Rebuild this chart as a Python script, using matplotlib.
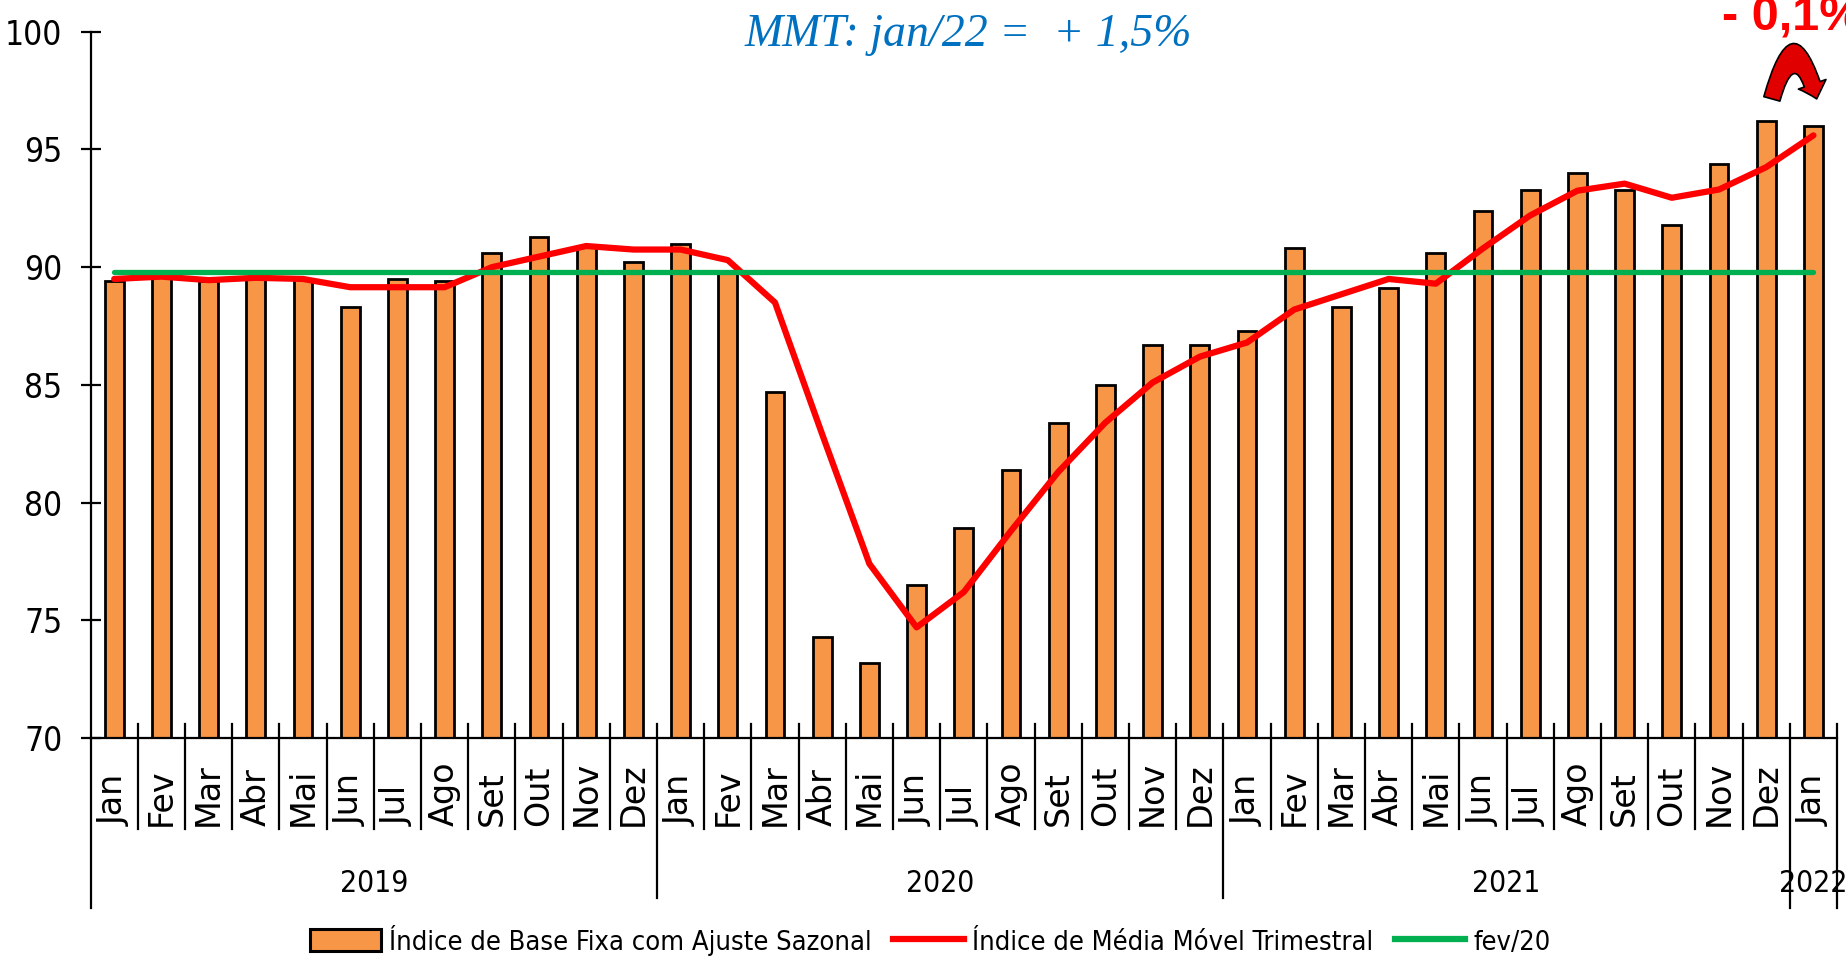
import matplotlib
matplotlib.use("Agg")
import matplotlib.pyplot as plt
from matplotlib import font_manager as fm
from matplotlib.patches import FancyArrowPatch, Patch
from matplotlib.lines import Line2D
import matplotlib.transforms as mtransforms

# ---------------- data ----------------
years = ["2019", "2020", "2021", "2022"]
months = ["Jan", "Fev", "Mar", "Abr", "Mai", "Jun", "Jul", "Ago", "Set", "Out", "Nov", "Dez"]
month_labels = months * 3 + ["Jan"]

indice_sazonal = [
    89.4, 89.6, 89.4, 89.6, 89.5, 88.3, 89.5, 89.4, 90.6, 91.3, 90.9, 90.2,   # 2019
    91.0, 89.8, 84.7, 74.3, 73.2, 76.5, 78.9, 81.4, 83.4, 85.0, 86.7, 86.7,   # 2020
    87.3, 90.8, 88.3, 89.1, 90.6, 92.4, 93.3, 94.0, 93.3, 91.8, 94.4, 96.2,   # 2021
    96.0,                                                                     # 2022
]
media_movel = [
    89.5, 89.6, 89.45, 89.55, 89.5, 89.15, 89.15, 89.15, 90.0, 90.45, 90.9, 90.75,
    90.75, 90.3, 88.5, 82.9, 77.4, 74.7, 76.2, 78.8, 81.3, 83.4, 85.1, 86.2,
    86.8, 88.2, 88.85, 89.5, 89.3, 90.8, 92.2, 93.25, 93.55, 92.95, 93.3, 94.25,
    95.6,
]
fev20_level = 89.8
year_spans = [(0, 11), (12, 23), (24, 35), (36, 36)]

title_text = "MMT: jan/22 =  + 1,5%"
change_text = "- 0,1%"
legend_labels = ["Índice de Base Fixa com Ajuste Sazonal",
                 "Índice de Média Móvel Trimestral", "fev/20"]

# ---------------- fonts ----------------
names = {f.name for f in fm.fontManager.ttflist}
NARROW = "Liberation Sans Narrow" if "Liberation Sans Narrow" in names else "DejaVu Sans"
narrow_kw = {"family": NARROW}
if NARROW == "DejaVu Sans":
    narrow_kw["stretch"] = "condensed"

ORANGE = "#F79646"
RED = "#FF0000"
GREEN = "#00B050"

W, H = 1846, 956
fig = plt.figure(figsize=(W / 100, H / 100), dpi=100)
ax_left, ax_right, ax_top, ax_bot = 90.6, 1837, 31.8, 738
ax = fig.add_axes([ax_left / W, 1 - ax_bot / H, (ax_right - ax_left) / W, (ax_bot - ax_top) / H])
axh = ax_bot - ax_top

n = len(indice_sazonal)
x = list(range(n))

ax.bar(x, indice_sazonal, width=0.4, color=ORANGE, edgecolor="black", linewidth=2.0, zorder=2)
ax.plot(x, media_movel, color=RED, linewidth=4.5, solid_capstyle="round",
        solid_joinstyle="round", zorder=3)
ax.plot([x[0], x[-1]], [fev20_level, fev20_level], color=GREEN, linewidth=3.8,
        solid_capstyle="round", zorder=4)

ax.set_xlim(-0.5, n - 0.5)
ax.set_ylim(70, 100)
ax.set_yticks([70, 75, 80, 85, 90, 95, 100])
ax.tick_params(axis="y", direction="inout", length=14.4, width=1.6, pad=13,
               labelsize=24, colors="black")
for lab in ax.get_yticklabels():
    lab.set_family(NARROW)
    if NARROW == "DejaVu Sans":
        lab.set_stretch("condensed")
ax.set_xticks([])
for s in ["top", "right"]:
    ax.spines[s].set_visible(False)
ax.spines["left"].set_linewidth(1.6)
ax.spines["bottom"].set_linewidth(1.6)

# category separators / multi-level axis
trans = mtransforms.blended_transform_factory(ax.transData, ax.transAxes)
top_y = 14 / axh
for k in range(n + 1):
    xb = k - 0.5
    if k in (0, n - 1, n):
        yb = -(908 - ax_bot) / axh
    elif k in (12, 24):
        yb = -(898 - ax_bot) / axh
    else:
        yb = -(829 - ax_bot) / axh
    ax.add_line(Line2D([xb, xb], [top_y if k > 0 else 0, yb], transform=trans,
                       color="black", linewidth=1.6, clip_on=False, zorder=5))

for i, m in enumerate(month_labels):
    ax.text(i, -(826 - ax_bot) / axh, m, transform=trans, rotation=90,
            ha="center", va="bottom", fontsize=24, family="DejaVu Sans")

for yr, (a, b) in zip(years, year_spans):
    ax.text((a + b) / 2, -(883 - ax_bot) / axh, yr, transform=trans,
            ha="center", va="center", fontsize=21.5, **narrow_kw)

# title & annotation
fig.text(968.5 / W, 1 - 46 / H, title_text, ha="center", va="baseline",
         fontsize=33, style="italic", family="Liberation Serif", color="#0070C0")
fig.text(1722 / W, 1 - 30 / H, change_text, ha="left", va="baseline",
         fontsize=35, weight="bold", family="Liberation Sans", color=RED)

arrow = FancyArrowPatch(posA=(35.12, 97.15), posB=(36.07, 97.15),
                        arrowstyle="simple,head_length=0.55,head_width=1.05,tail_width=0.6",
                        mutation_scale=20, connectionstyle="arc3,rad=-1.8",
                        facecolor="#E00000", edgecolor="black", linewidth=1.2,
                        shrinkA=0, shrinkB=0, clip_on=False, zorder=6)
ax.add_patch(arrow)

# legend
handles = [Patch(facecolor=ORANGE, edgecolor="black", linewidth=2.2),
           Line2D([], [], color=RED, linewidth=4.5),
           Line2D([], [], color=GREEN, linewidth=4.5)]
fig.legend(handles, legend_labels, loc="center", bbox_to_anchor=(0.504, 1 - 940 / H),
           ncol=3, frameon=False, prop=fm.FontProperties(size=19.5, **narrow_kw),
           handlelength=2.6, handleheight=0.9, handletextpad=0.3, columnspacing=0.8)

fig.savefig("out.png", dpi=100)
